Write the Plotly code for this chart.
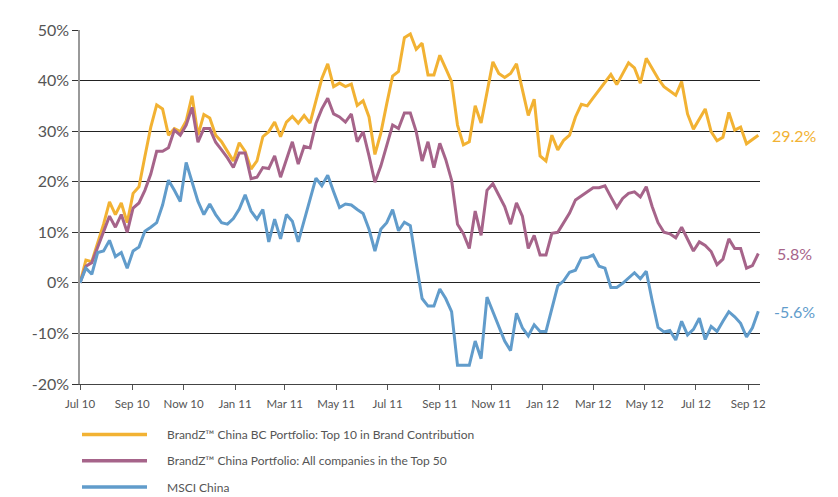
import pandas as pd
import plotly.graph_objects as go

start_date = "2010-07-01"
n_weeks = 116

bc_top10 = [0, 4.5, 4.2, 7.8, 11.6, 16, 13.5, 15.8, 11.9, 17.7, 19, 25, 30.8, 35.2, 34.4, 29.2, 30.5, 29.9, 32, 37,
            29.2, 33.3, 32.6, 29.2, 27.9, 26, 24.1, 27.7, 26, 22.5, 24.1, 28.9, 29.9, 31.8, 28.9, 31.8, 32.9, 31.6, 33.1, 31.6,
            36, 40.4, 43.3, 38.8, 39.5, 38.8, 39.3, 35.1, 36, 32.8, 25.4, 29.6, 35.4, 40.9, 41.8, 48.5, 49.2, 46.2, 47.4, 41.1,
            41.1, 45, 42.4, 39.8, 31.2, 27.3, 27.9, 35, 31.6, 37.6, 43.7, 41.4, 40.6, 41.4, 43.3, 38.2, 33.1, 36.3, 25.1, 24.1,
            29.2, 26.3, 28.2, 29.2, 32.8, 35.3, 35, 36.6, 38.2, 39.8, 41.2, 39.2, 41.4, 43.5, 42.5, 39.5, 44.4, 42.4, 40.4, 38.8,
            38, 37.1, 39.8, 33.4, 30.4, 32.4, 34.4, 29.9, 28.1, 28.8, 33.7, 30.2, 30.8, 27.5, 28.4, 29.2]

top50 = [0, 3.3, 4, 7.1, 10.3, 13.2, 11, 13.5, 10, 14.8, 15.8, 18.3, 21.5, 26, 26, 26.7, 30.2, 29.2, 31.2, 34.7,
         27.8, 30.5, 30.5, 27.8, 26.3, 24.7, 22.8, 25.7, 25.7, 20.6, 20.9, 22.8, 22.6, 25.1, 20.9, 24.4, 27.9, 23.5, 27, 26.7,
         31.5, 34.4, 36.5, 33.4, 32.8, 31.8, 33.4, 27.9, 29.9, 25.1, 19.9, 23.1, 27, 31.2, 30.5, 33.6, 33.6, 29.9, 24.1, 27.9,
         22.8, 27.6, 24.4, 20.3, 11.6, 9.7, 6.8, 14.2, 9.4, 18.3, 19.6, 17.4, 15.1, 11.6, 15.8, 13.2, 6.8, 9.4, 5.5, 5.5,
         9.8, 10, 11.8, 13.8, 16.4, 17.2, 18, 18.8, 18.8, 19.2, 17, 14.9, 16.7, 17.7, 18, 17, 19, 15.1, 11.9, 10,
         9.7, 8.9, 11, 8.7, 6.3, 8.1, 7.4, 6.2, 3.6, 4.7, 8.7, 6.8, 6.8, 2.9, 3.4, 5.8]

msci = [0, 2.9, 1.7, 6, 6.3, 8.4, 5.2, 6, 2.9, 6.3, 7.1, 10.2, 11, 11.9, 15.4, 20.3, 18.3, 16.1, 23.8, 19.9,
        16.1, 13.5, 15.6, 13.5, 11.9, 11.6, 12.7, 14.6, 17.4, 14.2, 12.6, 14.5, 8.1, 12.6, 8.7, 13.5, 12.2, 8.1, 12.2, 16.3,
        20.7, 19.2, 21.3, 18, 14.9, 15.6, 15.4, 14.5, 13.7, 10.6, 6.3, 10.6, 11.9, 14.5, 10.3, 12, 11.3, 3.9, -3.1, -4.6,
        -4.6, -1.2, -3.1, -5.7, -16.3, -16.3, -16.3, -11.5, -15, -2.8, -5.7, -8.9, -11.5, -13.4, -6, -8.9, -10.5, -8.3, -9.6, -9.6,
        -5.1, -0.6, 0.4, 2.1, 2.5, 4.9, 5, 5.5, 3.3, 2.9, -0.9, -0.9, -0.1, 1, 2, 0.8, 2.3, -3.5, -8.8, -9.7,
        -9.4, -11.3, -7.6, -10.3, -9.2, -7, -11.2, -8.6, -9.6, -7.6, -5.7, -6.7, -8, -10.7, -8.9, -5.6]

series_names = ["BrandZ™ China BC Portfolio: Top 10 in Brand Contribution",
                "BrandZ™ China Portfolio: All companies in the Top 50",
                "MSCI China"]
end_labels = ["29.2%", "5.8%", "-5.6%"]
tick_dates = ["2010-07-01", "2010-09-01", "2010-11-01", "2011-01-01", "2011-03-01", "2011-05-01", "2011-07-01",
              "2011-09-01", "2011-11-01", "2012-01-01", "2012-03-01", "2012-05-01", "2012-07-01", "2012-09-01"]
tick_labels = ["Jul 10", "Sep 10", "Now 10", "Jan 11", "Mar 11", "May 11", "Jul 11",
               "Sep 11", "Now 11", "Jan 12", "Mar 12", "May 12", "Jul 12", "Sep 12"]
y_ticks = [-20, -10, 0, 10, 20, 30, 40, 50]
y_tick_labels = ["-20%", "-10%", "0%", "10%", "20%", "30%", "40%", "50%"]

colors = ["#F2B233", "#A6648A", "#619CCB"]
dates = pd.date_range(start_date, periods=n_weeks, freq="7D")
all_series = [bc_top10, top50, msci]

# page has an 8px body margin; figure is sized to fit the 838x497 window
W, H = 830, 489
ML, MT, PW, PH = 72, 12, 680, 364
MR, MB = W - ML - PW, H - MT - PH

fig = go.Figure()
for name, vals, c in zip(series_names, all_series, colors):
    fig.add_trace(go.Scatter(x=dates, y=vals, mode="lines", name=name,
                             line=dict(color=c, width=3), showlegend=False))

# end value labels
for vals, lab, c in zip(all_series, end_labels, colors):
    fig.add_annotation(x=(794 - 80) / PW, xref="paper", y=vals[-1], yref="y", text=lab, showarrow=False,
                       xanchor="center", yanchor="middle", font=dict(size=16, color=c))

# legend drawn below the chart (page pixel positions)
legend_y = [436, 463, 490]
for name, c, py in zip(series_names, colors, legend_y):
    yp = (384 - py) / PH
    fig.add_shape(type="line", xref="paper", yref="paper", x0=(82 - 80) / PW, x1=(147 - 80) / PW,
                  y0=yp, y1=yp, line=dict(color=c, width=3.5))
    fig.add_annotation(x=(165 - 80) / PW, xref="paper", y=yp, yref="paper", text=name, showarrow=False,
                       xanchor="left", yanchor="middle", font=dict(size=12, color="#555555"))

fig.update_layout(
    width=W, height=H,
    margin=dict(l=ML, r=MR, t=MT, b=MB),
    paper_bgcolor="white", plot_bgcolor="white",
    font=dict(family="Lato, Open Sans, sans-serif", color="#555555"),
    showlegend=False,
)
fig.update_xaxes(
    type="date", range=["2010-07-01", "2012-09-15"],
    tickvals=tick_dates, ticktext=tick_labels,
    showgrid=False, showline=True, linecolor="#444444", linewidth=1,
    ticks="outside", ticklen=5, tickcolor="#555555",
    ticklabelstandoff=4,
    tickfont=dict(size=11.5, color="#555555"),
)
fig.update_yaxes(
    range=[-20, 50], tickvals=y_ticks, ticktext=y_tick_labels,
    showgrid=True, gridcolor="#222222", gridwidth=1, zeroline=False,
    showline=True, linecolor="#999999", linewidth=1.5,
    ticks="outside", ticklen=6, tickcolor="#333333",
    tickfont=dict(size=16, color="#555555"),
)

fig.write_html("out.html")
